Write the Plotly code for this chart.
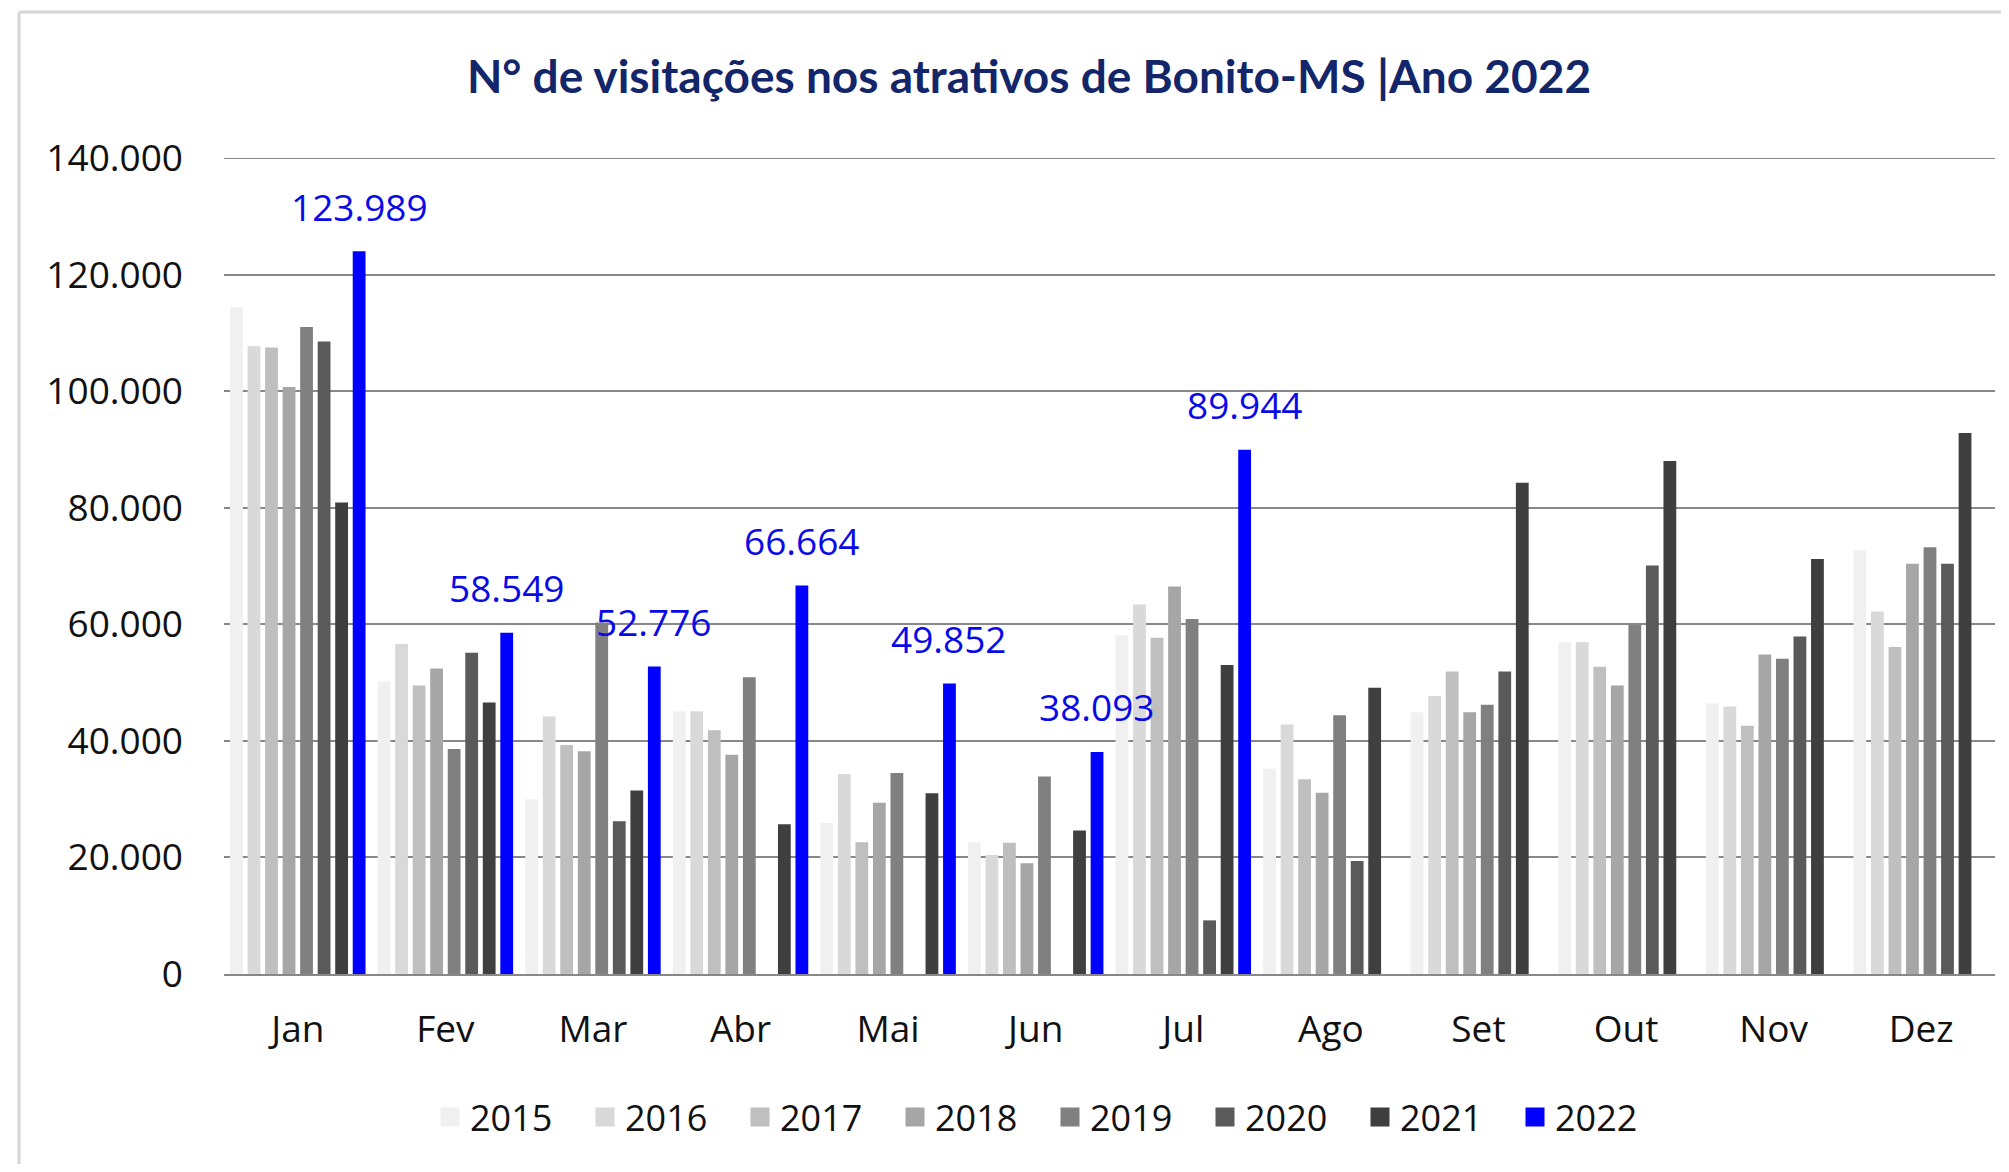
import plotly.graph_objects as go

months = ["Jan", "Fev", "Mar", "Abr", "Mai", "Jun", "Jul", "Ago", "Set", "Out", "Nov", "Dez"]
years = ["2015", "2016", "2017", "2018", "2019", "2020", "2021", "2022"]

v2015 = [114400, 50200, 30000, 45100, 25900, 22600, 58100, 35200, 44900, 56900, 46400, 72700]
v2016 = [107700, 56600, 44200, 45100, 34300, 20400, 63400, 42800, 47700, 56900, 45900, 62200]
v2017 = [107500, 49500, 39300, 41800, 22600, 22500, 57700, 33400, 51900, 52700, 42600, 56100]
v2018 = [100700, 52400, 38200, 37600, 29400, 19000, 66500, 31100, 44900, 49500, 54800, 70400]
v2019 = [111000, 38600, 60300, 50900, 34500, 33900, 60900, 44400, 46200, 59900, 54100, 73200]
v2020 = [108500, 55100, 26200, 0, 0, 0, 9200, 19400, 51900, 70100, 57900, 70400]
v2021 = [80900, 46600, 31500, 25700, 31000, 24600, 53000, 49100, 84300, 88000, 71200, 92800]
v2022 = [123989, 58549, 52776, 66664, 49852, 38093, 89944, None, None, None, None, None]

series = [v2015, v2016, v2017, v2018, v2019, v2020, v2021, v2022]
colors = ["#f0f0f0", "#d9d9d9", "#bfbfbf", "#a6a6a6", "#808080", "#5a5a5a", "#3f3f3f", "#0000ff"]
ytick_vals = [0, 20000, 40000, 60000, 80000, 100000, 120000, 140000]

# browser body margin (8px) compensation
OFF = 8
W, H = 2009 - 2 * OFF, 1172 - 2 * OFF
px_l, px_r, px_t, px_b = 224 - OFF, 1995 - OFF, 158 - OFF, 974 - OFF
BARGAP, GROUPGAP = 0.05, 0.27

def pxx(p):
    return (p - OFF - px_l) / (px_r - px_l)

def pxy(p):
    return (px_b - (p - OFF)) / (px_b - px_t)

fig = go.Figure()
for name, vals, col in zip(years, series, colors):
    fig.add_trace(go.Bar(name=name, x=months, y=vals, showlegend=False,
                         marker=dict(color=col, line=dict(width=0))))
# legend entries (larger square keys)
for name, col in zip(years, colors):
    fig.add_trace(go.Scatter(name=name, x=[None], y=[None], mode="markers",
                             marker=dict(symbol="square", size=16, color=col,
                                         line=dict(color=col, width=3))))

# data labels for 2022, centred above the 2022 bar of each group
cat_w = (px_r - px_l) / len(months)
slot = cat_w * (1 - BARGAP) / len(years)
x_off = (len(years) - 1 - (len(years) - 1) / 2) * slot
annotations = []
for m, v in zip(months, v2022):
    if v is None:
        continue
    annotations.append(dict(
        x=m, y=v, xref="x", yref="y", xshift=x_off, yshift=45,
        text=f"{v:,}".replace(",", "."), showarrow=False, yanchor="middle", xanchor="center",
        font=dict(family="Open Sans", size=37, color="#0a0ae6"),
    ))

fig.update_layout(
    width=W, height=H,
    margin=dict(l=px_l, r=W - px_r, t=px_t, b=H - px_b, autoexpand=False),
    paper_bgcolor="white", plot_bgcolor="white",
    separators=",.",
    barmode="group", bargap=BARGAP, bargroupgap=GROUPGAP,
    font=dict(family="Open Sans", size=36, color="#111111"),
    title=dict(
        text="<b>N° de visitações nos atrativos de Bonito-MS |Ano 2022</b>",
        font=dict(family="Lato", size=46, color="#14266a"),
        x=(1029 - OFF) / W, xanchor="center", xref="container",
        y=1 - (77 - OFF) / H, yanchor="middle", yref="container",
    ),
    showlegend=True,
    legend=dict(
        orientation="h", x=pxx(1050), xanchor="center", y=pxy(1117), yanchor="middle",
        font=dict(family="Open Sans", size=36, color="#111111"),
        entrywidth=110, entrywidthmode="pixels", traceorder="normal",
        itemwidth=30,
    ),
    xaxis=dict(
        type="category", showgrid=False, showline=True, linecolor="#888888", linewidth=2,
        ticks="", tickfont=dict(size=37, color="#111111"), ticklabelstandoff=22,
    ),
    yaxis=dict(
        range=[0, 140000], tickvals=ytick_vals,
        tickformat=",d", showgrid=True, gridcolor="#888888", gridwidth=2,
        zeroline=False, showline=False, ticks="",
        tickfont=dict(size=37, color="#111111"), ticklabelstandoff=40,
    ),
    annotations=annotations,
    shapes=[
        dict(type="line", xref="paper", yref="y", x0=0, x1=1, y0=ytick_vals[-1], y1=ytick_vals[-1],
             line=dict(color="#888888", width=2), layer="below"),
        dict(type="line", xref="paper", yref="paper", x0=pxx(19), x1=pxx(2009), y0=pxy(12), y1=pxy(12),
             line=dict(color="#d6d6d6", width=3)),
        dict(type="line", xref="paper", yref="paper", x0=pxx(19), x1=pxx(19), y0=pxy(12), y1=pxy(1172),
             line=dict(color="#d6d6d6", width=3)),
    ],
)

fig.write_html("out.html")
